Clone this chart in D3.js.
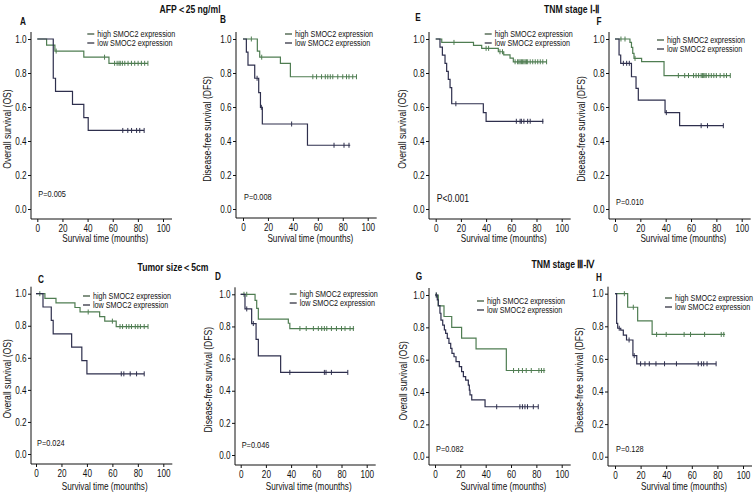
<!DOCTYPE html>
<html><head><meta charset="utf-8">
<script src="https://cdn.jsdelivr.net/npm/d3@7"></script>
<style>
html,body{margin:0;padding:0;background:#fff;}
svg{display:block;}
</style></head>
<body>
<svg id="chart" width="756" height="498"></svg>
<script>
// ---------------- DATA ----------------
const xTicks = [0, 20, 40, 60, 80, 100];
const yTicks = [0.0, 0.2, 0.4, 0.6, 0.8, 1.0];
const seriesNames = ["high SMOC2 expression", "low SMOC2 expression"];
const groupTitles = ["AFP\uFF1C25 ng/ml", "TNM stage \u2160-\u2161", "Tumor size\uFF1C5cm", "TNM stage \u2162-\u2163"];
const panelLetters = ["A", "B", "E", "F", "C", "D", "G", "H"];
const yLabels = ["Overall survival (OS)", "Disease-free survival (DFS)", "Overall survival (OS)", "Disease-free survival (DFS)",
                 "Overall survival (OS)", "Disease-free survival (DFS)", "Overall survival (OS)", "Disease-free survival (DFS)"];
const xLabel = "Survival time (mounths)";
const pValues = ["P=0.005", "P=0.008", "P<0.001", "P=0.010", "P=0.024", "P=0.046", "P=0.082", "P=0.128"];

// Panel A (OS, AFP<25)
const A_highT = [7.4, 14, 37, 57];
const A_highS = [0.964, 0.929, 0.893, 0.857];
const A_highEnd = 88;
const A_highCens = [15, 53.5, 61.5, 63.5, 65, 66, 67.7, 69.6, 72.2, 74.9, 77.5, 80.2, 82.8, 85.4, 88];
const A_lowT = [12.7, 14.5, 28, 37, 40.5];
const A_lowS = [0.769, 0.692, 0.615, 0.538, 0.462];
const A_lowEnd = 85;
const A_lowCens = [68, 72, 75, 79, 81.5, 85];

// Panel B (DFS, AFP<25)
const B_highT = [11.5, 13.4, 30, 38];
const B_highS = [0.929, 0.893, 0.857, 0.778];
const B_highEnd = 91;
const B_highCens = [6.7, 15, 56, 59, 63, 66, 68, 70, 72, 76, 80, 83, 85, 88, 91];
const B_lowT = [2.7, 4, 9.4, 12.6, 14, 15.5, 51.7];
const B_lowS = [0.923, 0.846, 0.769, 0.684, 0.598, 0.5, 0.375];
const B_lowEnd = 86;
const B_lowCens = [11.3, 14.7, 39, 73, 81, 85];

// Panel E (OS, TNM I-II)
const E_highT = [4.8, 30, 36.5, 49.7, 54, 59, 61.6];
const E_highS = [0.98, 0.963, 0.945, 0.925, 0.907, 0.888, 0.866];
const E_highEnd = 88;
const E_highCens = [14.5, 40, 42, 51, 53, 63, 65, 66, 67, 68, 69, 70, 71, 72, 73, 75, 77, 79, 81, 83, 85, 88];
const E_lowT = [3.4, 5.3, 7.4, 8.7, 10, 11.4, 12.7, 37.8, 40];
const E_lowS = [0.952, 0.905, 0.857, 0.81, 0.762, 0.714, 0.619, 0.567, 0.516];
const E_lowEnd = 85.4;
const E_lowCens = [16, 64, 67, 68, 70, 73, 75, 85];

// Panel F (DFS, TNM I-II)
const F_highT = [11.8, 13, 14, 15, 21, 38.7];
const F_highS = [0.98, 0.951, 0.916, 0.886, 0.867, 0.785];
const F_highEnd = 91;
const F_highCens = [4.7, 7.9, 15.8, 50, 55, 58, 62, 64, 66, 68, 69, 70, 71, 72, 74, 76, 78, 80, 83, 86, 88, 91];
const F_lowT = [3.2, 4.5, 13, 16.6, 18.4, 39.5, 51];
const F_lowS = [0.906, 0.857, 0.778, 0.71, 0.64, 0.567, 0.49];
const F_lowEnd = 85.5;
const F_lowCens = [6.6, 9.2, 11.3, 40.5, 68, 73, 85.5];

// Panel C (OS, Tumor size<5cm)
const C_highT = [7, 15.7, 30.6, 34.6, 50, 54, 63];
const C_highS = [0.971, 0.943, 0.914, 0.886, 0.857, 0.829, 0.795];
const C_highEnd = 88;
const C_highCens = [3, 41, 60, 66, 68, 71, 73, 75, 78, 80, 82, 85, 88];
const C_lowT = [5.5, 12, 13.5, 28, 36, 40];
const C_lowS = [0.917, 0.833, 0.75, 0.667, 0.583, 0.5];
const C_lowEnd = 85;
const C_lowCens = [67, 69, 74, 79, 85];

// Panel D (DFS, Tumor size<5cm)
const D_highT = [11.4, 12.7, 14, 37.8, 39];
const D_highS = [0.962, 0.913, 0.846, 0.82, 0.787];
const D_highEnd = 90;
const D_highCens = [2.6, 4.8, 47, 52, 57.7, 61.6, 64.3, 66.4, 68.3, 72, 76, 80, 82.8, 86.8, 89.4];
const D_lowT = [3.4, 8.7, 12.2, 14, 31.7];
const D_lowS = [0.909, 0.818, 0.72, 0.617, 0.514];
const D_lowEnd = 85;
const D_lowCens = [4.8, 10, 39, 66.4, 67.7, 72, 85];

// Panel G (OS, TNM III-IV)
const G_highT = [2.6, 7.1, 13.2, 21, 32.4, 56.3];
const G_highS = [0.933, 0.867, 0.8, 0.733, 0.667, 0.533];
const G_highEnd = 87;
const G_highCens = [1, 62, 66, 69, 72, 76, 82, 84, 86];
const G_lowT = [1.8, 2.6, 3.9, 4.7, 6.1, 7.4, 8.4, 9.7, 11, 12.4, 13.4, 15, 16.6, 19.2, 21, 22.4, 24.2, 26.3, 27.1, 27.6, 29, 39.5];
const G_lowS = [0.97, 0.934, 0.887, 0.845, 0.814, 0.784, 0.763, 0.732, 0.701, 0.67, 0.639, 0.618, 0.588, 0.557, 0.526, 0.495, 0.474, 0.443, 0.412, 0.382, 0.351, 0.309];
const G_lowEnd = 81.5;
const G_lowCens = [1, 48.7, 67, 69, 71, 73, 77.6, 81.5];

// Panel H (DFS, TNM III-IV)
const H_highT = [9.9, 17.7, 29];
const H_highS = [0.917, 0.833, 0.75];
const H_highEnd = 86;
const H_highCens = [7.3, 14.3, 32.5, 40, 54, 59, 70, 83, 85];
const H_lowT = [1.3, 2.1, 4.5, 6.5, 9, 14, 17];
const H_lowS = [0.818, 0.788, 0.777, 0.746, 0.716, 0.62, 0.57];
const H_lowEnd = 79;
const H_lowCens = [3.3, 11, 15, 20, 23.4, 26.8, 32, 38.7, 48, 65, 67.5, 69.3, 71.9, 79];

// ---------------- LAYOUT (positions / styles) ----------------
const FONT = "'Liberation Sans',Arial,sans-serif";
const SX = 0.82; // horizontal condensing of text
const COL_HIGH = "#4f7d52";
const COL_LOW = "#2e2f4d";

// [yAxisX, x0, x100, y(1.0), y(0.0), xAxisY, legendDx, legendY, yLabelX, xLabelY, pY, letterX, letterY]
const geo = [
  [31, 37.3, 163, 39, 209, 219, 50, 34, 11, 242, 197, 23, 25],
  [236, 243, 367.7, 39, 209, 218, 42, 34, 211, 242, 200, 223, 23],
  [429, 435.7, 561.7, 39, 209, 219, 49, 34, 406, 242, 202, 418, 21],
  [609, 615, 741.7, 39, 209, 219, 42, 40, 585, 242, 205, 599, 25],
  [31, 36, 163.3, 293.7, 454, 464, 47, 296, 11, 490, 446, 41, 283],
  [235, 240.7, 366.7, 294.3, 455, 465, 49, 294, 212, 490, 448, 218, 280],
  [429, 435, 561.7, 295, 456.7, 465, 42, 301, 407, 490, 452, 419, 280],
  [608, 615, 743, 293.7, 456.7, 466, 50, 298, 583, 490, 452, 599, 281]
];
const titlePos = [[190, 13], [572, 13], [173, 271], [563, 268]];

const panelData = [
  [[A_highT, A_highS, A_highEnd, A_highCens], [A_lowT, A_lowS, A_lowEnd, A_lowCens]],
  [[B_highT, B_highS, B_highEnd, B_highCens], [B_lowT, B_lowS, B_lowEnd, B_lowCens]],
  [[E_highT, E_highS, E_highEnd, E_highCens], [E_lowT, E_lowS, E_lowEnd, E_lowCens]],
  [[F_highT, F_highS, F_highEnd, F_highCens], [F_lowT, F_lowS, F_lowEnd, F_lowCens]],
  [[C_highT, C_highS, C_highEnd, C_highCens], [C_lowT, C_lowS, C_lowEnd, C_lowCens]],
  [[D_highT, D_highS, D_highEnd, D_highCens], [D_lowT, D_lowS, D_lowEnd, D_lowCens]],
  [[G_highT, G_highS, G_highEnd, G_highCens], [G_lowT, G_lowS, G_lowEnd, G_lowCens]],
  [[H_highT, H_highS, H_highEnd, H_highCens], [H_lowT, H_lowS, H_lowEnd, H_lowCens]]
];

const svg = d3.select("#chart");
svg.append("rect").attr("width", 756).attr("height", 498).attr("fill", "#fff");

function ctext(parent, x, y, str, size, opts = {}) {
  const t = parent.append("text")
    .attr("transform", `translate(${x},${y})${opts.rotate ? " rotate(-90)" : ""} scale(${SX},1)`)
    .attr("font-family", FONT).attr("font-size", size).attr("fill", "#111")
    .attr("text-anchor", opts.anchor || "start").text(str);
  if (opts.bold) t.attr("font-weight", "bold");
  return t;
}

groupTitles.forEach((t, i) => {
  ctext(svg, titlePos[i][0], titlePos[i][1], t, 10.5, { anchor: "middle", bold: true });
});

function survAt(T, S, t) {
  let s = 1;
  for (let i = 0; i < T.length; i++) { if (T[i] <= t) s = S[i]; }
  return s;
}

panelData.forEach((series, pi) => {
  const [axX, x0, x100, yTop, yBot, axY, lgDx, lgY, ylX, xlY, pY, ltX, ltY] = geo[pi];
  const g = svg.append("g");
  const x = d3.scaleLinear().domain([0, 100]).range([x0, x100]);
  const y = d3.scaleLinear().domain([0, 1]).range([yBot, yTop]);

  // axes
  const xa = g.append("g").attr("transform", `translate(0,${axY})`)
    .call(d3.axisBottom(x).tickValues(xTicks).tickSize(3).tickPadding(3).tickFormat(d3.format("d")));
  xa.select(".domain").remove();
  g.append("line").attr("x1", axX).attr("x2", x100 + 9).attr("y1", axY).attr("y2", axY)
    .attr("stroke", "#111").attr("stroke-width", 1);
  const ya = g.append("g").attr("transform", `translate(${axX},0)`)
    .call(d3.axisLeft(y).tickValues(yTicks).tickSize(3).tickPadding(1.5).tickFormat(d3.format(".1f")));
  ya.select(".domain").remove();
  g.append("line").attr("x1", axX).attr("x2", axX).attr("y1", yTop - 7).attr("y2", axY)
    .attr("stroke", "#111").attr("stroke-width", 1);
  [xa, ya].forEach(a => {
    a.selectAll("text").attr("font-family", FONT).attr("font-size", 10).attr("fill", "#111")
      .attr("transform", `scale(${SX},1)`);
    a.selectAll("line").attr("stroke", "#111");
  });
  ya.selectAll("text").attr("x", -4.5 / SX);

  // curves
  series.forEach((s, si) => {
    const [T, S, end, cens] = s;
    const pts = [[0, 1]].concat(T.map((t, i) => [t, S[i]])).concat([[end, S[S.length - 1]]]);
    const col = si === 0 ? COL_HIGH : COL_LOW;
    g.append("path").datum(pts)
      .attr("d", d3.line().x(d => x(d[0])).y(d => y(d[1])).curve(d3.curveStepAfter))
      .attr("fill", "none").attr("stroke", col).attr("stroke-width", 1.2);
    g.selectAll(null).data(cens).enter().append("line")
      .attr("x1", d => x(d)).attr("x2", d => x(d))
      .attr("y1", d => y(survAt(T, S, d)) - 2.5).attr("y2", d => y(survAt(T, S, d)) + 2.5)
      .attr("stroke", col).attr("stroke-width", 1);
  });

  // legend
  seriesNames.forEach((n, si) => {
    const ly = lgY + si * 9;
    g.append("line").attr("x1", x0 + lgDx).attr("x2", x0 + lgDx + 7).attr("y1", ly).attr("y2", ly)
      .attr("stroke", si === 0 ? "#2f4a30" : "#222233").attr("stroke-width", 1.2);
    ctext(g, x0 + lgDx + 10, ly + 3, n, 8.8);
  });

  // labels
  ctext(g, ylX, (yTop + yBot) / 2 + 5, yLabels[pi], 10.5, { anchor: "middle", rotate: true });
  ctext(g, (x0 + x100) / 2 + 5, xlY, xLabel, 10, { anchor: "middle" });
  ctext(g, x0 + 1, pY, pValues[pi], pi === 2 ? 10.5 : 9);
  ctext(g, ltX, ltY, panelLetters[pi], 10, { anchor: "middle", bold: true });
});
</script>
</body></html>
